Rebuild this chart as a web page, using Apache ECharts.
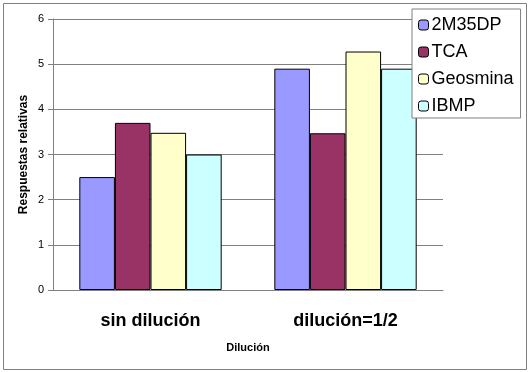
<!DOCTYPE html>
<html><head><meta charset="utf-8">
<script src="https://cdn.jsdelivr.net/npm/echarts@6/dist/echarts.min.js"></script>
<style>html,body{margin:0;padding:0;background:#fff}#c{width:530px;height:372px}</style>
</head><body><div id="c"></div>
<script>
const categories = ['sin dilución', 'dilución=1/2'];
const seriesNames = ['2M35DP', 'TCA', 'Geosmina', 'IBMP'];
const v2M35DP = [2.5, 4.9];
const vTCA = [3.7, 3.47];
const vGeosmina = [3.48, 5.28];
const vIBMP = [3.0, 4.9];
const yTicks = [0, 1, 2, 3, 4, 5, 6];
const colors = ['#9999FF', '#993366', '#FFFFCC', '#CCFFFF'];
const values = [v2M35DP, vTCA, vGeosmina, vIBMP];

const chart = echarts.init(document.getElementById('c'), null, {renderer: 'canvas'});
const font = 'Arial, "Liberation Sans", sans-serif';
chart.setOption({
  animation: false,
  backgroundColor: '#fff',
  graphic: [{type: 'rect', shape: {x: 3.5, y: 3.5, width: 523, height: 366}, style: {fill: null, stroke: '#808080', lineWidth: 1}, z: -1}],
  grid: {left: 53, right: 87, top: 19, bottom: 82},
  legend: {
    orient: 'vertical', left: 412, top: 9,
    padding: [7, 7, 3, 6], itemGap: 9, itemWidth: 10, itemHeight: 10,
    backgroundColor: '#fff', borderColor: '#808080', borderWidth: 1,
    textStyle: {fontFamily: font, fontSize: 18, lineHeight: 18, color: '#000', padding: [0, 0, 0, -2]},
    itemStyle: {borderColor: '#000', borderWidth: 1},
    data: seriesNames
  },
  xAxis: {
    type: 'category', data: categories,
    axisLine: {lineStyle: {color: '#808080'}},
    axisTick: {length: 5, lineStyle: {color: '#808080'}},
    axisLabel: {fontFamily: font, fontSize: 18, fontWeight: 'bold', color: '#000', margin: 22},
    name: 'Dilución', nameLocation: 'middle', nameGap: 52, nameMoveOverlap: false,
    nameTextStyle: {fontFamily: font, fontSize: 11, fontWeight: 'bold', color: '#000'}
  },
  yAxis: {
    type: 'value', min: yTicks[0], max: yTicks[yTicks.length - 1], interval: 1,
    axisLine: {show: true, lineStyle: {color: '#808080'}},
    axisTick: {show: true, length: 5, lineStyle: {color: '#808080'}},
    axisLabel: {fontFamily: font, fontSize: 11, color: '#000', margin: 9},
    splitLine: {lineStyle: {color: '#808080'}},
    name: 'Respuestas relativas', nameLocation: 'middle', nameGap: 23, nameMoveOverlap: false,
    nameTextStyle: {fontFamily: font, fontSize: 12, fontWeight: 'bold', color: '#000'}
  },
  series: seriesNames.map((n, i) => ({
    name: n, type: 'bar', data: values[i],
    barGap: '0%', barCategoryGap: '27%',
    itemStyle: {color: colors[i], borderColor: '#000', borderWidth: 1}
  }))
});
</script></body></html>
